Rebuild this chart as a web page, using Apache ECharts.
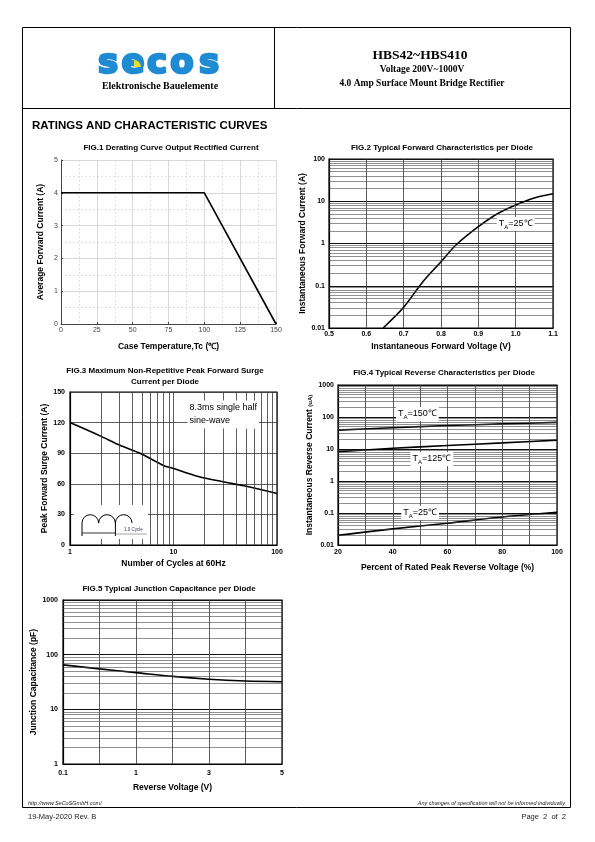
<!DOCTYPE html>
<html><head><meta charset="utf-8">
<script src="https://cdn.jsdelivr.net/npm/echarts@6/dist/echarts.min.js"></script>
<style>html,body{margin:0;padding:0;background:#fff}#c{width:595px;height:842px}</style>
</head><body><div id="c"></div>
<script>
// ---------- DATA ----------
// FIG.1 Derating curve
const fig1Temp = [0, 100, 150];
const fig1Current = [4, 4, 0];
// FIG.2 Forward characteristics
const fig2Voltage = [0.645, 0.7, 0.75, 0.8, 0.84, 0.9, 0.95, 1.0, 1.05, 1.1];
const fig2Current = [0.01, 0.031, 0.12, 0.37, 0.92, 2.5, 5.0, 8.2, 12, 15];
// FIG.3 Surge current
const fig3Cycles = [1, 2, 3, 4.75, 8, 10, 17, 30, 48, 100];
const fig3Surge = [120, 106.5, 98, 90, 78, 75, 67.5, 62, 58, 50.5];
// FIG.4 Reverse characteristics
const fig4Percent = [20, 40, 60, 80, 100];
const fig4T150 = [39, 46, 54, 61, 68];
const fig4T125 = [8.3, 10.5, 12.8, 15.5, 19];
const fig4T25 = [0.02, 0.032, 0.048, 0.075, 0.105];
// FIG.5 Junction capacitance
const fig5Voltage = ['0.1', '', '1', '', '3', '', '5'];
const fig5Cap = [65, 55, 47, 40, 35.5, 33, 32];

// ---------- STYLE HELPERS ----------
const F = "'Liberation Sans', Arial, sans-serif";
const SERIF = "'Liberation Serif', 'Times New Roman', serif";
const tickLbl = {fontFamily: F, fontSize: 7, fontWeight: 'bold', color: '#000'};
const nameTS = {fontFamily: F, fontSize: 8.5, fontWeight: 'bold', color: '#000'};
const fmtNum = v => String(parseFloat((+v).toPrecision(3)));
const zip = (a, b) => a.map((x, i) => [x, b[i]]);
function logMinor(min, max) {
  const out = [];
  for (let d = min; d < max * 0.999; d *= 10) for (let k = 2; k <= 9; k++) out.push(parseFloat((d * k).toPrecision(3)));
  return out;
}
function minorLines(key, vals, color, width) {
  return {silent: true, symbol: ['none', 'none'], animation: false, label: {show: false},
    emphasis: {disabled: true}, lineStyle: {color: color, width: width, type: 'solid'},
    data: vals.map(v => ({[key]: v}))};
}
function tag(coord, temp) {
  return {coord: coord, symbol: 'rect', symbolSize: [1, 1], itemStyle: {color: 'rgba(0,0,0,0)'},
    label: {show: true, position: 'inside', formatter: '{a|T}{s|A}{a|=' + temp + '}',
      backgroundColor: '#fff', padding: [1, 2],
      rich: {a: {fontFamily: F, fontSize: 9, lineHeight: 12, color: '#000'},
             s: {fontFamily: F, fontSize: 6, lineHeight: 6, verticalAlign: 'bottom', color: '#000'}}}};
}
const curve = {color: '#000', width: 1.6};
const darkSplit = {show: true, lineStyle: {color: '#333', width: 0.8}};
const boxGrid = {show: true, borderColor: '#000', borderWidth: 1.2, backgroundColor: '#fff'};

const option = {
  animation: false,
  title: [
    {text: 'FIG.1 Derating Curve Output Rectified Current', left: 171, top: 142, textAlign: 'center'},
    {text: 'FIG.2 Typical Forward Characteristics per Diode', left: 442, top: 142, textAlign: 'center'},
    {text: 'FIG.3 Maximum Non-Repetitive Peak Forward Surge\nCurrent per Diode', left: 165, top: 365, textAlign: 'center'},
    {text: 'FIG.4 Typical Reverse Characteristics per Diode', left: 444, top: 367, textAlign: 'center'},
    {text: 'FIG.5 Typical Junction Capacitance per Diode', left: 169, top: 583, textAlign: 'center'}
  ].map(t => Object.assign(t, {padding: 0, textStyle: {fontFamily: F, fontSize: 8, fontWeight: 'bold', color: '#000', lineHeight: 11}})),
  grid: [
    {left: 61, top: 160, width: 215, height: 164, show: false},
    Object.assign({left: 329, top: 159, width: 224, height: 169}, boxGrid),
    Object.assign({left: 70, top: 392, width: 207, height: 153}, boxGrid),
    Object.assign({left: 338, top: 385, width: 219, height: 160}, boxGrid),
    Object.assign({left: 63, top: 600, width: 219, height: 164}, boxGrid)
  ],
  xAxis: [
    {gridIndex: 0, type: 'value', min: 0, max: 150, interval: 25,
     axisLine: {show: true, lineStyle: {color: '#444'}}, axisTick: {show: true, inside: true, length: 2, lineStyle: {color: '#444'}},
     axisLabel: {fontFamily: F, fontSize: 7, color: '#444', margin: 3},
     splitLine: {show: true, lineStyle: {color: '#cfcfcf', width: 0.8}},
     minorTick: {show: false, splitNumber: 2},
     minorSplitLine: {show: true, lineStyle: {color: '#d8d8d8', width: 0.8, type: [2, 2]}},
     name: 'Case Temperature,Tc (℃)', nameLocation: 'middle', nameGap: 18, nameTextStyle: nameTS},
    {gridIndex: 1, type: 'value', min: 0.5, max: 1.1, interval: 0.1,
     axisLine: {show: true, lineStyle: {color: '#000', width: 1.2}}, axisTick: {show: false},
     axisLabel: Object.assign({margin: 3, formatter: v => (+v).toFixed(1)}, tickLbl),
     splitLine: darkSplit,
     name: 'Instantaneous Forward Voltage (V)', nameLocation: 'middle', nameGap: 14, nameTextStyle: nameTS},
    {gridIndex: 2, type: 'log', logBase: 10, min: 1, max: 100,
     axisLine: {show: true, lineStyle: {color: '#000', width: 1.2}}, axisTick: {show: false},
     axisLabel: Object.assign({margin: 4, formatter: fmtNum}, tickLbl),
     splitLine: darkSplit,
     name: 'Number of Cycles at 60Hz', nameLocation: 'middle', nameGap: 14, nameTextStyle: nameTS},
    {gridIndex: 3, type: 'value', min: 20, max: 100, interval: 10,
     axisLine: {show: true, lineStyle: {color: '#000', width: 1.2}}, axisTick: {show: false},
     axisLabel: Object.assign({margin: 4, formatter: v => (v % 20 === 0 ? String(v) : '')}, tickLbl),
     splitLine: darkSplit,
     name: 'Percent of Rated Peak Reverse Voltage (%)', nameLocation: 'middle', nameGap: 18, nameTextStyle: nameTS},
    {gridIndex: 4, type: 'category', data: fig5Voltage, boundaryGap: false,
     axisLine: {show: true, lineStyle: {color: '#000', width: 1.2}}, axisTick: {show: false},
     axisLabel: Object.assign({margin: 6, interval: 0}, tickLbl),
     splitLine: {show: true, interval: 0, lineStyle: {color: '#333', width: 0.8}},
     name: 'Reverse Voltage (V)', nameLocation: 'middle', nameGap: 19, nameTextStyle: nameTS}
  ],
  yAxis: [
    {gridIndex: 0, type: 'value', min: 0, max: 5, interval: 1,
     axisLine: {show: true, lineStyle: {color: '#444'}}, axisTick: {show: true, inside: true, length: 2, lineStyle: {color: '#444'}},
     axisLabel: {fontFamily: F, fontSize: 7, color: '#444', margin: 3},
     splitLine: {show: true, lineStyle: {color: '#cfcfcf', width: 0.8}},
     minorTick: {show: false, splitNumber: 2},
     minorSplitLine: {show: true, lineStyle: {color: '#d8d8d8', width: 0.8, type: [2, 2]}},
     name: 'Average Forward Current (A)', nameLocation: 'middle', nameGap: 16, nameTextStyle: nameTS},
    {gridIndex: 1, type: 'log', logBase: 10, min: 0.01, max: 100,
     axisLine: {show: true, lineStyle: {color: '#000', width: 1.2}}, axisTick: {show: false},
     axisLabel: Object.assign({margin: 4, formatter: fmtNum}, tickLbl),
     splitLine: {show: true, lineStyle: {color: '#111', width: 1.1}},
     name: 'Instantaneous Forward Current (A)', nameLocation: 'middle', nameGap: 20, nameTextStyle: nameTS},
    {gridIndex: 2, type: 'value', min: 0, max: 150, interval: 30,
     axisLine: {show: true, lineStyle: {color: '#000', width: 1.2}}, axisTick: {show: false},
     axisLabel: Object.assign({margin: 5, formatter: fmtNum}, tickLbl),
     splitLine: darkSplit,
     name: 'Peak Forward Surge Current (A)', nameLocation: 'middle', nameGap: 20, nameTextStyle: nameTS},
    {gridIndex: 3, type: 'log', logBase: 10, min: 0.01, max: 1000,
     axisLine: {show: true, lineStyle: {color: '#000', width: 1.2}}, axisTick: {show: false},
     axisLabel: Object.assign({margin: 4, formatter: fmtNum}, tickLbl),
     splitLine: {show: true, lineStyle: {color: '#111', width: 1.1}},
     name: 'Instantaneous Reverse Current {s|(uA)}', nameLocation: 'middle', nameGap: 22,
     nameTextStyle: Object.assign({rich: {s: {fontFamily: F, fontSize: 6, color: '#000'}}}, nameTS)},
    {gridIndex: 4, type: 'log', logBase: 10, min: 1, max: 1000,
     axisLine: {show: true, lineStyle: {color: '#000', width: 1.2}}, axisTick: {show: false},
     axisLabel: Object.assign({margin: 5, formatter: fmtNum}, tickLbl),
     splitLine: {show: true, lineStyle: {color: '#111', width: 1.1}},
     name: 'Junction Capacitance (pF)', nameLocation: 'middle', nameGap: 19, nameTextStyle: nameTS}
  ],
  series: [
    // FIG.1
    {type: 'line', xAxisIndex: 0, yAxisIndex: 0, data: zip(fig1Temp, fig1Current), showSymbol: false, lineStyle: curve, z: 3},
    // FIG.2 minor grid + curve
    {type: 'line', xAxisIndex: 1, yAxisIndex: 1, data: [], z: 1, markLine: minorLines('yAxis', logMinor(0.01, 100), '#444', 0.6)},
    {type: 'line', xAxisIndex: 1, yAxisIndex: 1, data: zip(fig2Voltage, fig2Current), smooth: 0.3, showSymbol: false, lineStyle: curve, z: 3,
     markPoint: {data: [tag([1.0, 2.9], '25℃')]}},
    // FIG.3 minor grid + curve
    {type: 'line', xAxisIndex: 2, yAxisIndex: 2, data: [], z: 1, markLine: minorLines('xAxis', logMinor(1, 100), '#333', 0.8)},
    {type: 'line', xAxisIndex: 2, yAxisIndex: 2, data: zip(fig3Cycles, fig3Surge), smooth: 0.3, showSymbol: false, lineStyle: curve, z: 3,
     markPoint: {data: [{coord: [13.5, 128], symbol: 'rect', symbolSize: [1, 1], itemStyle: {color: 'rgba(0,0,0,0)'},
       label: {show: true, position: 'right', distance: 0, formatter: '8.3ms single half\nsine-wave', backgroundColor: '#fff',
         padding: [1, 2], fontFamily: F, fontSize: 9, lineHeight: 13, color: '#000', align: 'left'}}]}},
    // FIG.4 minor grid + curves
    {type: 'line', xAxisIndex: 3, yAxisIndex: 3, data: [], z: 1, markLine: minorLines('yAxis', logMinor(0.01, 1000), '#444', 0.6)},
    {type: 'line', xAxisIndex: 3, yAxisIndex: 3, data: zip(fig4Percent, fig4T150), smooth: 0.3, showSymbol: false, lineStyle: curve, z: 3,
     markPoint: {data: [tag([49, 124], '150℃')]}},
    {type: 'line', xAxisIndex: 3, yAxisIndex: 3, data: zip(fig4Percent, fig4T125), smooth: 0.3, showSymbol: false, lineStyle: curve, z: 3,
     markPoint: {data: [tag([54.3, 4.9], '125℃')]}},
    {type: 'line', xAxisIndex: 3, yAxisIndex: 3, data: zip(fig4Percent, fig4T25), smooth: 0.3, showSymbol: false, lineStyle: curve, z: 3,
     markPoint: {data: [tag([50, 0.1], '25℃')]}},
    // FIG.5 minor grid + curve
    {type: 'line', xAxisIndex: 4, yAxisIndex: 4, data: [], z: 1, markLine: minorLines('yAxis', logMinor(1, 1000), '#444', 0.6)},
    {type: 'line', xAxisIndex: 4, yAxisIndex: 4, data: fig5Cap, smooth: 0.3, showSymbol: false, lineStyle: curve, z: 3}
  ],
  graphic: []
};

function txt(x, y, text, font, align, fill, z, extra) {
  return {type: 'text', x: x, y: y, z: z || 10, silent: true,
    style: Object.assign({text: text, font: font, fill: fill || '#000', align: align || 'left', textAlign: align || 'left',
      verticalAlign: 'middle', textVerticalAlign: 'middle'}, extra || {})};
}
const G = option.graphic;
// page frame & header
G.push({type: 'rect', z: 10, silent: true, shape: {x: 22.5, y: 27.5, width: 548, height: 780}, style: {fill: 'none', stroke: '#000', lineWidth: 1}});
G.push({type: 'line', z: 10, silent: true, shape: {x1: 22.5, y1: 108.5, x2: 570.5, y2: 108.5}, style: {stroke: '#000', lineWidth: 1}});
G.push({type: 'line', z: 10, silent: true, shape: {x1: 274.5, y1: 27.5, x2: 274.5, y2: 108.5}, style: {stroke: '#000', lineWidth: 1}});
// logo
const logoLetters = ['s', 'e', 'c', 'o', 's'];
const logoX = [108, 133, 157, 182, 209];
logoLetters.forEach((l, i) => G.push(txt(logoX[i], 64, l, "bold 34px 'DejaVu Sans'", 'center', '#1f8bd2', 10,
  {stroke: '#1f8bd2', lineWidth: 2.5})));
G.push({type: 'sector', z: 11, silent: true, shape: {cx: 134, cy: 67, r0: 0, r: 7, startAngle: -Math.PI / 2, endAngle: 0}, style: {fill: '#e6e02a'}});
G.push(txt(160, 86, 'Elektronische Bauelemente', 'bold 10px ' + SERIF, 'center'));
G.push(txt(420, 56, 'HBS42~HBS410', 'bold 13.5px ' + SERIF, 'center'));
G.push(txt(422, 70, 'Voltage 200V~1000V', 'bold 9.5px ' + SERIF, 'center'));
G.push(txt(422, 84, '4.0 Amp Surface Mount Bridge Rectifier', 'bold 9.5px ' + SERIF, 'center'));
G.push(txt(32, 126, 'RATINGS AND CHARACTERISTIC CURVES', 'bold 11.5px ' + F, 'left'));
// footer
G.push(txt(28, 803, 'http://www.SeCoSGmbH.com/', 'italic 5.5px ' + F, 'left', '#222'));
G.push(txt(566, 803, 'Any changes of specification will not be informed individually.', 'italic 5.5px ' + F, 'right', '#222'));
G.push(txt(28, 817, '19-May-2020 Rev. B', '7.5px ' + F, 'left', '#222'));
G.push(txt(566, 817, 'Page  2  of  2', '7.5px ' + F, 'right', '#222'));
// FIG.3 inset sketch (one-cycle half sine-wave)
G.push({type: 'rect', z: 20, silent: true, shape: {x: 74, y: 505, width: 74, height: 34}, style: {fill: '#fff'}});
[90.3, 107, 123.7].forEach(cx => G.push({type: 'arc', z: 21, silent: true,
  shape: {cx: cx, cy: 523, r: 8.3, startAngle: Math.PI, endAngle: 2 * Math.PI}, style: {stroke: '#000', fill: 'none', lineWidth: 1}}));
G.push({type: 'line', z: 21, silent: true, shape: {x1: 82, y1: 523, x2: 82, y2: 536}, style: {stroke: '#000', lineWidth: 1}});
G.push({type: 'line', z: 21, silent: true, shape: {x1: 115.4, y1: 523, x2: 115.4, y2: 536}, style: {stroke: '#000', lineWidth: 1}});
G.push({type: 'line', z: 21, silent: true, shape: {x1: 82, y1: 533, x2: 115.4, y2: 533}, style: {stroke: '#000', lineWidth: 0.8}});
G.push({type: 'line', z: 21, silent: true, shape: {x1: 115.4, y1: 534, x2: 147, y2: 534}, style: {stroke: '#666', lineWidth: 0.6}});
G.push(txt(124, 530, '1.0 Cycle', '4.5px ' + F, 'left', '#335', 22));

const chart = echarts.init(document.getElementById('c'), null, {renderer: 'canvas'});
chart.setOption(option);
</script>
</body></html>
